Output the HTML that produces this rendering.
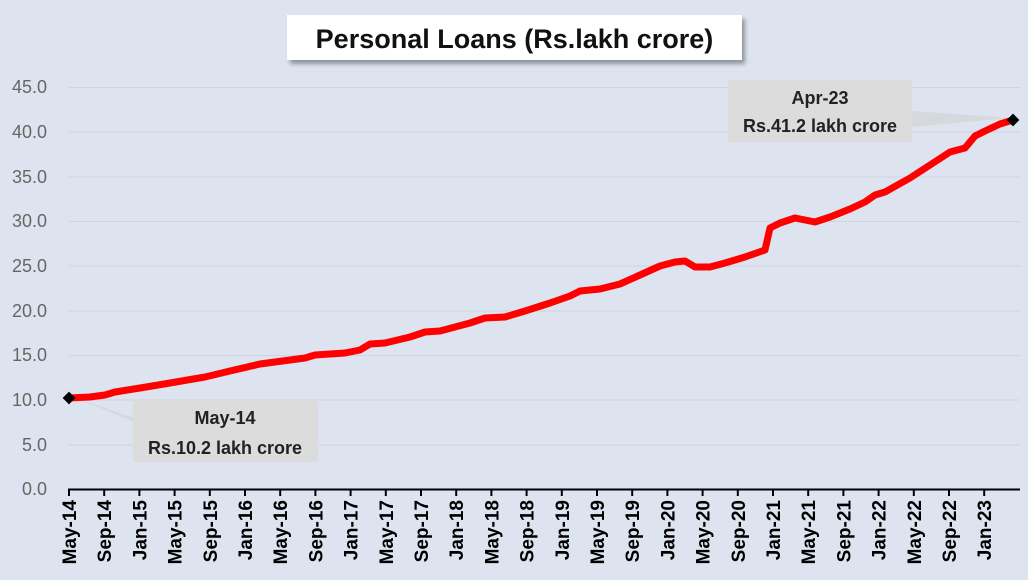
<!DOCTYPE html>
<html><head><style>
body{margin:0;background:#dde4ef;}
svg{display:block;font-family:"Liberation Sans",sans-serif;}
</style></head><body>
<svg width="1028" height="580" viewBox="0 0 1028 580">
<defs><filter id="sh" x="-10%" y="-20%" width="130%" height="160%"><feDropShadow dx="3" dy="4" stdDeviation="2" flood-color="#000" flood-opacity="0.35"/></filter></defs>
<rect width="1028" height="580" fill="#dde4ef"/>
<g stroke="#cfd4de" stroke-width="1">
<line x1="69" x2="1020" y1="87.5" y2="87.5"/><line x1="69" x2="1020" y1="132" y2="132"/>
<line x1="69" x2="1020" y1="177" y2="177"/><line x1="69" x2="1020" y1="221.5" y2="221.5"/>
<line x1="69" x2="1020" y1="266" y2="266"/><line x1="69" x2="1020" y1="311" y2="311"/>
<line x1="69" x2="1020" y1="355.5" y2="355.5"/><line x1="69" x2="1020" y1="400" y2="400"/>
<line x1="69" x2="1020" y1="445" y2="445"/>
</g>
<g fill="#666" font-size="18" text-anchor="end">
<text x="47" y="93">45.0</text><text x="47" y="138">40.0</text><text x="47" y="183">35.0</text>
<text x="47" y="227">30.0</text><text x="47" y="272">25.0</text><text x="47" y="317">20.0</text>
<text x="47" y="361">15.0</text><text x="47" y="406">10.0</text><text x="47" y="451">5.0</text>
<text x="47" y="495">0.0</text>
</g>
<polygon points="75,398 200,440 130,420" fill="#d3d6da" opacity="0.8"/>
<polygon points="900,110 1010,118 900,128" fill="#d3d6da" opacity="0.8"/>
<rect x="133" y="400" width="185" height="62" fill="#dcdcdc"/>
<text x="225" y="424" text-anchor="middle" font-size="18" font-weight="bold" fill="#222">May-14</text>
<text x="225" y="454" text-anchor="middle" font-size="18" font-weight="bold" fill="#222">Rs.10.2 lakh crore</text>
<rect x="728" y="80" width="184" height="62" fill="#dcdcdc"/>
<text x="820" y="104" text-anchor="middle" font-size="18" font-weight="bold" fill="#222">Apr-23</text>
<text x="820" y="132" text-anchor="middle" font-size="18" font-weight="bold" fill="#222">Rs.41.2 lakh crore</text>
<polyline fill="none" stroke="#ff0000" stroke-width="7" stroke-linejoin="round" stroke-linecap="round" points="69,398 90,397 105,395 115,392 140,388 170,383 205,377 230,371 260,364 290,360 305,358 315,355 345,353 360,350 370,344 385,343 410,337 425,332 440,331 470,323 485,318 505,317 525,311 550,303 570,296 580,291 600,289 620,284 640,275 660,266 675,262 685,261 695,267 710,267 725,263 745,257 765,250 770,228 780,223 795,218 815,222 830,217 850,209 865,202 875,195 885,192 910,178 930,165 950,152 965,148 975,136 985,131 1000,124 1013,120"/>
<rect x="64.5" y="393.5" width="9" height="9" fill="#000" transform="rotate(45 69 398)"/>
<rect x="1008.5" y="115.5" width="9" height="9" fill="#000" transform="rotate(45 1013 120)"/>
<line x1="68" x2="1020" y1="489.5" y2="489.5" stroke="#000" stroke-width="2"/>
<g stroke="#000" stroke-width="2" id="ticks"></g>
<g id="xl" font-size="19" font-weight="bold" fill="#000" text-anchor="end"></g>
<rect x="287" y="15" width="455" height="45" fill="#fff" filter="url(#sh)"/>
<text x="514.5" y="48" text-anchor="middle" font-size="27" font-weight="bold" fill="#111">Personal Loans (Rs.lakh crore)</text>
</svg>
<script>
var labs=["May-14","Sep-14","Jan-15","May-15","Sep-15","Jan-16","May-16","Sep-16","Jan-17","May-17","Sep-17","Jan-18","May-18","Sep-18","Jan-19","May-19","Sep-19","Jan-20","May-20","Sep-20","Jan-21","May-21","Sep-21","Jan-22","May-22","Sep-22","Jan-23"];
var t=document.getElementById('ticks'),x=document.getElementById('xl'),ns="http://www.w3.org/2000/svg";
labs.forEach(function(l,i){var px=69+i*35.2;
var ln=document.createElementNS(ns,'line');ln.setAttribute('x1',px);ln.setAttribute('x2',px);ln.setAttribute('y1',489);ln.setAttribute('y2',496);t.appendChild(ln);
var tx=document.createElementNS(ns,'text');tx.setAttribute('transform','translate('+(px+7)+',500) rotate(-90)');tx.textContent=l;x.appendChild(tx);});
</script>
</body></html>
